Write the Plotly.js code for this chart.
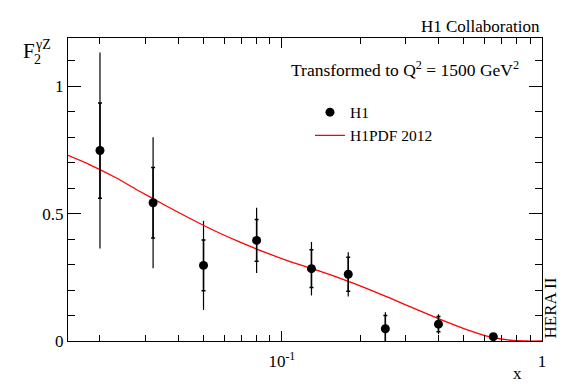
<!DOCTYPE html>
<html>
<head>
<meta charset="utf-8">
<script src="https://cdn.plot.ly/plotly-3.0.1.min.js"></script>
<style>html,body{margin:0;padding:0;background:#fff;}#chart{width:567px;height:384px;}</style>
</head>
<body>
<div id="chart"></div>
<script>
// H1 data points
var dataX = [0.02, 0.032, 0.05, 0.08, 0.13, 0.18, 0.25, 0.4, 0.65];
var dataY = [0.748, 0.543, 0.297, 0.395, 0.284, 0.262, 0.048, 0.066, 0.017];
var statErr = [0.187, 0.138, 0.100, 0.082, 0.074, 0.067, 0.052, 0.030, 0.006];
var totalErr = [0.385, 0.257, 0.175, 0.128, 0.105, 0.087, 0.065, 0.039, 0.009];

// H1PDF 2012 curve
var curveX = [0.01507, 0.01831, 0.02285, 0.02851, 0.03557, 0.04439, 0.05539, 0.06911, 0.08627, 0.1076,
              0.1343, 0.1676, 0.2091, 0.2609, 0.3256, 0.4063, 0.5070, 0.6326, 0.7552, 0.8627, 1.0];
var curveY = [0.729, 0.692, 0.643, 0.587, 0.533, 0.481, 0.432, 0.388, 0.348, 0.312,
              0.280, 0.246, 0.209, 0.168, 0.126, 0.085, 0.047, 0.016, 0.003, 0.0, 0.0];

var xTickVals = [0.1, 1];
var xTickText = ["10<sup>-1</sup>", "1"];
var xMinorVals = [0.02, 0.03, 0.04, 0.05, 0.06, 0.07, 0.08, 0.09, 0.2, 0.3, 0.4, 0.5, 0.6, 0.7, 0.8, 0.9];
var yTickVals = [0, 0.5, 1];
var yTickText = ["0", "0.5", "1"];

var serif = '"Liberation Serif", "Times New Roman", Times, serif';

var traces = [
  {
    x: dataX, y: dataY, type: 'scatter', mode: 'markers',
    marker: {size: 1, color: 'black', opacity: 0},
    error_y: {type: 'data', array: totalErr, visible: true, color: 'black', thickness: 1.2, width: 0},
    showlegend: false, hoverinfo: 'skip'
  },
  {
    x: curveX, y: curveY, type: 'scatter', mode: 'lines', name: 'H1PDF 2012',
    line: {color: 'red', width: 1.3, shape: 'spline', smoothing: 0.8},
    legendrank: 2
  },
  {
    x: dataX, y: dataY, type: 'scatter', mode: 'markers', name: 'H1',
    marker: {size: 9, color: 'black'},
    error_y: {type: 'data', array: statErr, visible: true, color: 'black', thickness: 1.5, width: 2},
    legendrank: 1
  }
];

var layout = {
  width: 567, height: 384,
  margin: {l: 68, r: 25, t: 38, b: 43},
  paper_bgcolor: 'white', plot_bgcolor: 'white',
  font: {family: serif, size: 17, color: 'black'},
  showlegend: true,
  legend: {x: 0.5105, y: 0.81, xanchor: 'left', yanchor: 'top', bgcolor: 'rgba(0,0,0,0)',
           font: {family: serif, size: 15.5, color: 'black'}, itemwidth: 30, traceorder: 'normal'},
  xaxis: {
    type: 'log', range: [Math.log10(0.01507), 0],
    showline: true, linecolor: 'black', linewidth: 1, mirror: 'ticks',
    showgrid: false, zeroline: false,
    tickmode: 'array', tickvals: xTickVals, ticktext: xTickText,
    ticks: 'inside', ticklen: 10, tickcolor: 'black', tickwidth: 1,
    ticklabelstandoff: 5,
    tickfont: {family: serif, size: 17, color: 'black'},
    minor: {tickmode: 'array', tickvals: xMinorVals, ticks: 'inside', ticklen: 6, tickcolor: 'black', tickwidth: 1, showgrid: false}
  },
  yaxis: {
    range: [0, 1.19],
    showline: true, linecolor: 'black', linewidth: 1, mirror: 'ticks',
    showgrid: false, zeroline: false,
    tickmode: 'array', tickvals: yTickVals, ticktext: yTickText,
    ticks: 'inside', ticklen: 13, tickcolor: 'black', tickwidth: 1,
    tickfont: {family: serif, size: 17, color: 'black'},
    minor: {dtick: 0.1, ticks: 'inside', ticklen: 7, tickcolor: 'black', tickwidth: 1, showgrid: false}
  },
  annotations: [
    {text: 'H1 Collaboration', xref: 'paper', yref: 'paper', x: 1, y: 1, xanchor: 'right', yanchor: 'bottom',
     showarrow: false, font: {family: serif, size: 17, color: 'black'}},
    {text: 'Transformed to Q<sup>2</sup> = 1500 GeV<sup>2</sup>', xref: 'paper', yref: 'paper', x: 0.466, y: 0.8977,
     xanchor: 'left', yanchor: 'middle', showarrow: false, font: {family: serif, size: 17.5, color: 'black'}},
    {text: 'F', xref: 'paper', yref: 'paper', x: 0, y: 1, xanchor: 'center', yanchor: 'middle', xshift: -39, yshift: -13,
     showarrow: false, font: {family: serif, size: 21, color: 'black'}},
    {text: '2', xref: 'paper', yref: 'paper', x: 0, y: 1, xanchor: 'center', yanchor: 'middle', xshift: -31, yshift: -21,
     showarrow: false, font: {family: serif, size: 14, color: 'black'}},
    {text: 'γZ', xref: 'paper', yref: 'paper', x: 0, y: 1, xanchor: 'left', yanchor: 'middle', xshift: -35, yshift: -6,
     showarrow: false, font: {family: serif, size: 14, color: 'black'}},
    {text: 'x', xref: 'paper', yref: 'paper', x: 0.949, y: 0, xanchor: 'center', yanchor: 'middle', yshift: -32,
     showarrow: false, font: {family: serif, size: 17, color: 'black'}},
    {text: 'HERA II', xref: 'paper', yref: 'paper', x: 1, y: 0, xanchor: 'center', yanchor: 'bottom', xshift: 8,
     textangle: -90, showarrow: false, font: {family: serif, size: 17, color: 'black'}}
  ]
};

Plotly.newPlot('chart', traces, layout, {displayModeBar: false, staticPlot: true});
</script>
</body>
</html>
